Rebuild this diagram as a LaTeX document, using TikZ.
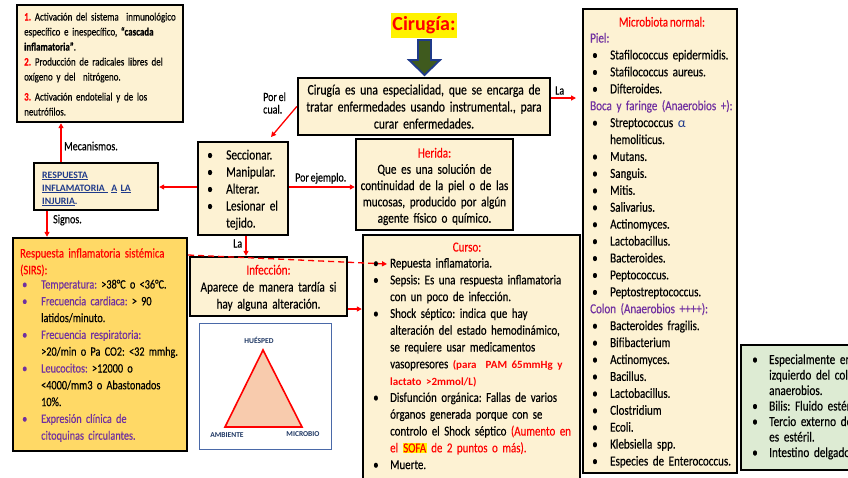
\documentclass[tikz,border=0pt]{standalone}
\usepackage{fontspec}
\setmainfont{Carlito}[FakeStretch=0.8,FakeBold=0.3,WordSpace=0.75]
\newfontfamily\plainfont{Carlito}
\usetikzlibrary{arrows.meta,calc}
\frenchspacing
\definecolor{cream}{HTML}{FDF2D3}
\definecolor{sirsfill}{HTML}{FFD966}
\definecolor{greenfill}{HTML}{DDEBD3}
\definecolor{purp}{HTML}{7030A0}
\definecolor{navyblue}{HTML}{1F3A8A}
\definecolor{trinavy}{HTML}{1F3864}
\definecolor{olivegreen}{HTML}{3F5A1E}
\definecolor{salmon}{HTML}{F8CBAD}
\definecolor{triframe}{HTML}{4A69A8}
\newlength\myind
\newlength\mypre
\newcommand\sz[2]{\fontsize{#1}{#2}\selectfont}
\newcommand\bl[1]{\leavevmode\hbox to\myind{\hspace{\mypre}\textbullet\hss}#1\par}
\newcommand\blp[1]{\leavevmode\hbox to\myind{\hspace{\mypre}\textcolor{purp}{\textbullet}\hss}#1\par}
\newcommand\cl[1]{\leavevmode\hspace*{\myind}#1\par}
\newcommand\hd[1]{\leavevmode#1\par}
\newcommand\redb[1]{{\plainfont\fontsize{11}{11}\selectfont\bfseries\color{red}#1}}
\tikzset{
  box/.style={draw=black, line width=2.4pt, fill=cream, inner sep=0pt},
  txt/.style={anchor=base west, inner sep=0pt, align=left, text width=#1},
  txt/.default=200pt,
  ctxt/.style={anchor=base, inner sep=0pt, align=center, text width=#1},
  arr/.style={draw=red, line width=1.3pt, -{Triangle[length=5pt,width=5pt]}},
  lbl/.style={inner sep=0pt, font=\sz{12.5}{12.5}},
  trilbl/.style={inner sep=0pt, font=\plainfont\fontsize{7.5}{8}\selectfont\bfseries, text=trinavy}
}
\begin{document}
\begin{tikzpicture}[x=1pt,y=-1pt]
\useasboundingbox (0,0) rectangle (848,477);
\clip (0,0) rectangle (848,477);
\fill[white] (0,0) rectangle (848,477);

% boxes
\node[box, minimum width=166pt, minimum height=117pt] (tl) at (100,63.5) {};
\node[box, minimum width=252pt, minimum height=57pt] (cen) at (424,106.5) {};
\node[box, minimum width=90pt, minimum height=93pt] (bul) at (243,188.5) {};
\node[box, minimum width=124pt, minimum height=47pt] (resp) at (96,186.5) {};
\node[box, fill=sirsfill, minimum width=174pt, minimum height=213pt] (sirs) at (100,344.5) {};
\node[box, minimum width=157pt, minimum height=59pt] (inf) at (268.5,286.5) {};
\node[draw=triframe, line width=0.9pt, fill=white, inner sep=0pt, minimum width=132pt, minimum height=126pt] (trib) at (265,386.5) {};
\node[box, minimum width=157pt, minimum height=91pt] (her) at (434.5,184.5) {};
\node[box, minimum width=217pt, minimum height=250pt] (cur) at (471.5,360) {};
\node[box, minimum width=154pt, minimum height=464pt] (mic) at (660,241) {};
\node[box, fill=greenfill, minimum width=110pt, minimum height=125pt] (grn) at (796,407.5) {};

% title and block arrow
\node[fill=yellow, text=red, inner sep=0pt, minimum width=66pt, minimum height=25pt, font=\plainfont\fontsize{20}{22}\selectfont\bfseries] (title) at (424,25.5) {Cirugía:};
\draw[draw=navyblue, line width=1.8pt, fill=olivegreen, line join=miter] (418,40) -- (431,40) -- (431,60) -- (440,60) -- (424.5,75) -- (409,60) -- (418,60) -- cycle;

% top-left text
\node[txt=160pt, font=\sz{11.2}{15}] (tltext) at (24,20.5) {%
\textcolor{red}{\textbf{1.}} Activación del sistema\ \ inmunológico\par
específico e inespecífico, \textbf{“cascada}\par
\textbf{inflamatoria”}.\par
\textcolor{red}{\textbf{2.}} Producción de radicales libres del\par
oxígeno y del\ \ nitrógeno.\par
\vspace{5pt}\textcolor{red}{\textbf{3.}} Activación endotelial y de los\par
neutrófilos.};

% central text
\node[ctxt=250pt, font=\sz{14.5}{17}] (centext) at (424,94.5) {%
Cirugía es una especialidad, que se encarga de\\
tratar enfermedades usando instrumental., para\\
curar enfermedades.};

% bullet box text
\setlength\myind{19pt}\setlength\mypre{0pt}
\node[txt=85pt, font=\sz{14.2}{17}] (bultext) at (207,159.5) {%
\bl{Seccionar.}\bl{Manipular.}\bl{Alterar.}\bl{Lesionar el}\cl{tejido.}};

% respuesta text
\node[txt=120pt, font=\plainfont\fontsize{9.8}{13}\selectfont\bfseries, text=navyblue] (resptext) at (42,178) {%
\underline{RESPUESTA}\par
\underline{INFLAMATORIA\ } \underline{A}\ \underline{LA}\par
\underline{INJURIA}.};

% SIRS text
\node[txt=170pt, font=\sz{13.2}{16.8}, text=red] (sirstitle) at (20,257.5) {%
Respuesta inflamatoria sistémica\par (SIRS):};
\setlength\myind{20pt}\setlength\mypre{1pt}
\node[txt=170pt, font=\sz{12.8}{16.8}] (sirstext) at (21,288.5) {%
\blp{\textcolor{purp}{Temperatura:} >38°C o <36°C.}
\blp{\textcolor{purp}{Frecuencia cardiaca:} > 90}
\cl{latidos/minuto.}
\blp{\textcolor{purp}{Frecuencia respiratoria:}}
\cl{>20/min o Pa CO2: <32 mmhg.}
\blp{\textcolor{purp}{Leucocitos:} >12000 o}
\cl{<4000/mm3 o Abastonados}
\cl{10\%.}
\blp{\textcolor{purp}{Expresión clínica de}}
\cl{\textcolor{purp}{citoquinas circulantes.}}};

% infection text
\node[ctxt=155pt, font=\sz{14}{17}] (inftext) at (268.5,274.5) {%
\textcolor{red}{Infección:}\\
Aparece de manera tardía si\\
hay alguna alteración.};

% triangle
\coordinate (tA) at (263,350);
\coordinate (tB) at (225,427);
\coordinate (tC) at (302,427);
\draw[red, line width=1.6pt, fill=salmon, line join=miter] (tA) -- (tB) -- (tC) -- cycle;
\node[trilbl] (lh) at (259,340) {HUÉSPED};
\node[trilbl] (la) at (227,435) {AMBIENTE};
\node[trilbl] (lm) at (303,434) {MICROBIO};

% herida text
\node[ctxt=155pt, font=\sz{14}{16.3}] (hertext) at (434.5,157.5) {%
\textcolor{red}{Herida:}\\
Que es una solución de\\
continuidad de la piel o de las\\
mucosas, producido por algún\\
agente físico o químico.};

% curso
\node[inner sep=0pt, anchor=base, text=red, font=\sz{13.8}{14}] (curtitle) at (467,251.5) {Curso:};
\setlength\myind{17pt}\setlength\mypre{0pt}
\node[txt=210pt, font=\sz{13.6}{16.8}] (curtext) at (373,267.5) {%
\bl{Repuesta inflamatoria.}
\bl{Sepsis: Es una respuesta inflamatoria}
\cl{con un poco de infección.}
\bl{Shock séptico: indica que hay}
\cl{alteración del estado hemodinámico,}
\cl{se requiere usar medicamentos}
\cl{vasopresores \redb{(para\ \ PAM 65mmHg y}}
\cl{\redb{lactato >2mmol/L)}}
\bl{Disfunción orgánica: Fallas de varios}
\cl{órganos generada porque con se}
\cl{controlo el Shock séptico \textcolor{red}{(Aumento en}}
\cl{\textcolor{red}{el {\setlength\fboxsep{0.6pt}\colorbox{yellow}{SOFA}} de 2 puntos o más).}}
\bl{Muerte.}};

% microbiota
\node[inner sep=0pt, anchor=base, text=red, font=\sz{13.8}{14}] (mictitle) at (662,26.5) {Microbiota normal:};
\setlength\myind{20pt}\setlength\mypre{2pt}
\node[txt=150pt, font=\sz{13.8}{16.92}] (mictext) at (590,42.5) {%
\hd{\textcolor{purp}{Piel:}}
\bl{Stafilococcus epidermidis.}
\bl{Stafilococcus aureus.}
\bl{Difteroides.}
\hd{\textcolor{purp}{Boca y faringe (Anaerobios +):}}
\bl{Streptococcus {\plainfont\textcolor{navyblue}{α}}}
\cl{hemoliticus.}
\bl{Mutans.}
\bl{Sanguis.}
\bl{Mitis.}
\bl{Salivarius.}
\bl{Actinomyces.}
\bl{Lactobacillus.}
\bl{Bacteroides.}
\bl{Peptococcus.}
\bl{Peptostreptococcus.}
\hd{\textcolor{purp}{Colon (Anaerobios ++++):}}
\bl{Bacteroides fragilis.}
\bl{Bifibacterium}
\bl{Actinomyces.}
\bl{Bacillus.}
\bl{Lactobacillus.}
\bl{Clostridium}
\bl{Ecoli.}
\bl{Klebsiella spp.}
\bl{Especies de Enterococcus.}};

% green box
\setlength\myind{17pt}\setlength\mypre{0pt}
\node[txt=200pt, font=\sz{14}{15.5}] (grntext) at (752,364) {%
\bl{Especialmente en el lado}
\cl{izquierdo del colon hay}
\cl{anaerobios.}
\bl{Bilis: Fluido estéril.}
\bl{Tercio externo de la uretra}
\cl{es estéril.}
\bl{Intestino delgado}};

% coordinates for connectors
\coordinate (xm) at (61,0);
\coordinate (xs) at (47,0);
\coordinate (xla) at (246,0);
\coordinate (y187) at (0,187);
\coordinate (y98) at (0,98);
\coordinate (y309) at (0,309);
\coordinate (y255) at (0,255);
\coordinate (pcend) at (271,137);
\coordinate (laend) at (576,98);
\coordinate (dashend) at (387,264);

% connectors
\draw[arr] (xm |- resp.north) -- (xm |- tl.south);
\node[lbl, anchor=west] (lmec) at (64,146) {Mecanismos.};
\draw[arr] (xs |- resp.south) -- (xs |- sirs.north);
\node[lbl, anchor=west] (lsig) at (53,220) {Signos.};
\draw[arr] (bul.west |- y187) -- (resp.east |- y187);
\draw[arr] (bul.east |- y187) -- (her.west |- y187);
\node[lbl, anchor=base west] (lpe) at (295,181.5) {Por ejemplo.};
\draw[arr] (cen.west) -- (pcend);
\node[lbl, anchor=base west, align=left] (lpc) at (263,113.5) {Por el\\cual.};
\draw[arr] (cen.east |- y98) -- (laend);
\node[lbl, anchor=base west] (lla1) at (555,94.5) {La};
\draw[arr] (xla |- bul.south) -- (xla |- inf.north);
\node[lbl, anchor=base west] (lla2) at (233,247.5) {La};
\draw[arr] (inf.east |- y309) -- (cur.west |- y309);
\draw[arr, dashed, dash pattern=on 6pt off 4pt] (sirs.east |- y255) -- (dashend);
\end{tikzpicture}
\end{document}
